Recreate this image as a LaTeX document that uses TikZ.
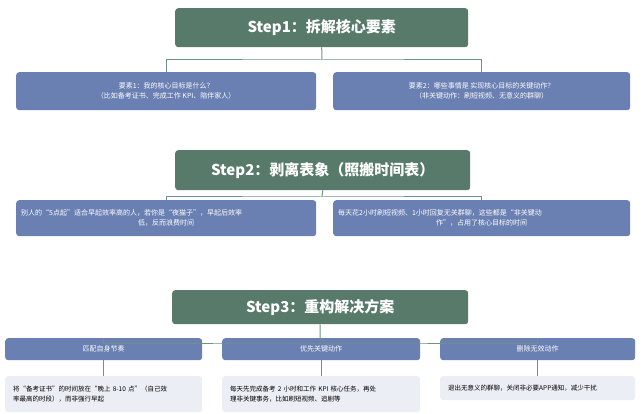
\documentclass[tikz,border=0pt]{standalone}
\usepackage{fontspec}
\setmainfont{Noto Sans CJK SC}
\begin{document}
\begin{tikzpicture}[x=1pt,y=-1pt,
 stepbox/.style={draw=none,fill=stepc,rounded corners=3pt,text=white,font=\bfseries\fontsize{15}{18}\selectfont,anchor=north west,inner sep=0pt},
 bluebox/.style={fill=bluec,rounded corners=3pt,text=white,font=\fontsize{7}{10}\selectfont,align=center,anchor=north west,inner sep=0pt},
 descbox/.style={fill=descc,rounded corners=3pt,text=black,font=\fontsize{6.5}{10}\selectfont,align=left,anchor=north west,inner sep=0pt},
 conn/.style={draw=connc,line width=1pt}]
\definecolor{stepc}{HTML}{577A6A}
\definecolor{bluec}{HTML}{6A7FB2}
\definecolor{descc}{HTML}{ECEEF5}
\definecolor{connc}{HTML}{6F9282}
\useasboundingbox (0,0) rectangle (643,414);
% Step1
\node[stepbox,minimum width=293,minimum height=39] (s1) at (175,8) {Step1：拆解核心要素};
\node[bluebox,minimum width=300,minimum height=38] (b1) at (16,72) {要素1：我的核心目标是什么？\\（比如备考证书、完成工作 KPI、陪伴家人）};
\node[bluebox,minimum width=297,minimum height=38] (b2) at (333,72) {要素2：哪些事情是 实现核心目标的关键动作？\\（非关键动作：刷短视频、无意义的群聊）};
\coordinate (j1) at (322,60);
\draw[conn] (s1.south) -- (j1);
\draw[conn] (b1.north) |- (j1) -| (b2.north);
% Step2
\node[stepbox,minimum width=295,minimum height=40] (s2) at (175,150) {Step2：剥离表象（照搬时间表）};
\node[bluebox,minimum width=300,minimum height=36,text width=290,align=left] (b3) at (16,200) {别人的“5点起”适合早起效率高的人，若你是“夜猫子”，早起后效率\\\hfill 低，反而浪费时间\hfill\null};
\node[bluebox,minimum width=297,minimum height=36,text width=287,align=left] (b4) at (333,200) {每天花2小时刷短视频、1小时回复无关群聊，这些都是“非关键动\\\hfill 作”，占用了核心目标的时间\hfill\null};
\coordinate (j2) at (322,197);
\draw[conn] (s2.south) -- (j2);
\draw[conn] (b3.north) |- (j2) -| (b4.north);
% Step3
\node[stepbox,minimum width=296,minimum height=34] (s3) at (172,290) {Step3：重构解决方案};
\node[bluebox,minimum width=197,minimum height=22] (h1) at (5,338) {匹配自身节奏};
\node[bluebox,minimum width=198,minimum height=22] (h2) at (222,338) {优先关键动作};
\node[bluebox,minimum width=195,minimum height=22] (h3) at (440,338) {删除无效动作};
\coordinate (j3) at (320,343);
\draw[conn] (s3.south) -- (j3);
\draw[conn] (h1.north) |- (j3) -| (h3.north);
\node[descbox,minimum width=197,minimum height=36,text width=189] (d1) at (5,376) {\hspace*{4pt}将“备考证书”的时间放在“晚上 8-10 点”（自己效\\\hspace*{4pt}率最高的时段），而非强行早起};
\node[descbox,minimum width=198,minimum height=36,text width=190] (d2) at (222,376) {\hspace*{4pt}每天先完成备考 2 小时和工作 KPI 核心任务，再处\\\hspace*{4pt}理非关键事务，比如刷短视频、追剧等};
\node[descbox,minimum width=195,minimum height=24,text width=187] (d3) at (440,376) {\hspace*{4pt}退出无意义的群聊，关闭非必要APP通知，减少干扰};
\draw[conn] (h1.south) -- (d1.north);
\draw[conn] (h2.south) -- (d2.north);
\draw[conn] (h3.south) -- (d3.north);
\end{tikzpicture}
\end{document}
